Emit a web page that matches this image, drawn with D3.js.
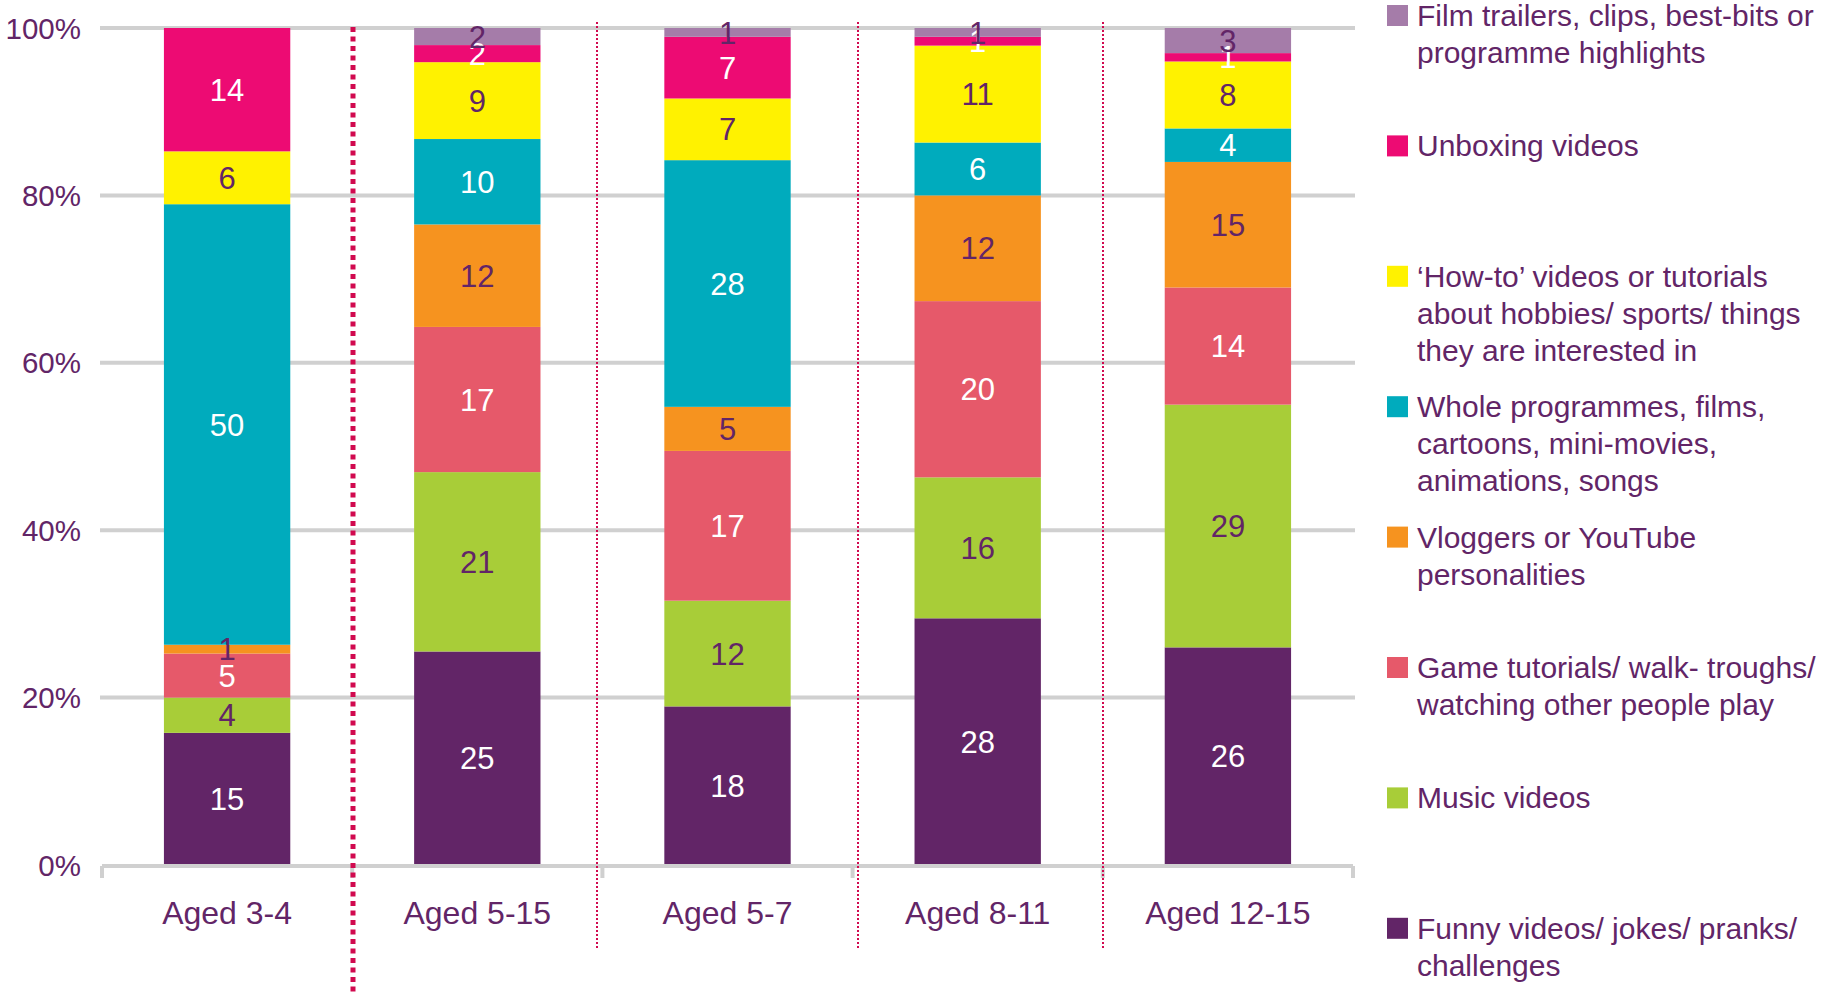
<!DOCTYPE html>
<html>
<head>
<meta charset="utf-8">
<script src="https://cdn.jsdelivr.net/npm/d3@7"></script>
<style>
  html, body { margin: 0; padding: 0; background: #fff; }
  svg text { font-family: "Liberation Sans", Arial, sans-serif; }
</style>
</head>
<body>
<div id="chart"></div>
<script>
const ages = ["Aged 3-4", "Aged 5-15", "Aged 5-7", "Aged 8-11", "Aged 12-15"];

// series from bottom to top
const seriesKeys = ["funny", "music", "game", "vloggers", "whole", "howto", "unboxing", "film"];
const seriesLabels = [
  ["Funny videos/ jokes/ pranks/", "challenges"],
  ["Music videos"],
  ["Game tutorials/ walk- troughs/", "watching other people play"],
  ["Vloggers or YouTube", "personalities"],
  ["Whole programmes, films,", "cartoons, mini-movies,", "animations, songs"],
  ["\u2018How-to\u2019 videos or tutorials", "about hobbies/ sports/ things", "they are interested in"],
  ["Unboxing videos"],
  ["Film trailers, clips, best-bits or", "programme highlights"]
];
const seriesColors = ["#622567", "#a8cd38", "#e6596a", "#f6931f", "#00abbd", "#fff200", "#ed0b73", "#a57ca9"];
const labelColors = ["#fff", "#622567", "#fff", "#622567", "#fff", "#622567", "#fff", "#622567"];

// values per age group, same order as seriesKeys
const funny    = [15, 25, 18, 28, 26];
const music    = [4, 21, 12, 16, 29];
const game     = [5, 17, 17, 20, 14];
const vloggers = [1, 12, 5, 12, 15];
const whole    = [50, 10, 28, 6, 4];
const howto    = [6, 9, 7, 11, 8];
const unboxing = [14, 2, 7, 1, 1];
const film     = [0, 2, 1, 1, 3];

const yTicks = [0, 0.2, 0.4, 0.6, 0.8, 1];

const cols = { funny, music, game, vloggers, whole, howto, unboxing, film };
const table = ages.map((a, i) => {
  const row = { age: a };
  seriesKeys.forEach(k => row[k] = cols[k][i]);
  return row;
});

const width = 1825, height = 994;
const margin = { left: 102, right: 472, top: 28, bottom: 129 };
const purple = "#622567";
const grid = "#d0d0d0";

const svg = d3.select("#chart").append("svg")
  .attr("width", width)
  .attr("height", height);

const x = d3.scaleBand()
  .domain(ages)
  .range([margin.left, width - margin.right])
  .paddingInner(0.495)
  .paddingOuter(0.2475);

const y = d3.scaleLinear()
  .domain([0, 1])
  .range([height - margin.bottom, margin.top]);

const stack = d3.stack().keys(seriesKeys).offset(d3.stackOffsetExpand);
const stacked = stack(table);

// gridlines
svg.append("g")
  .selectAll("line")
  .data(yTicks.filter(d => d > 0))
  .enter()
  .append("line")
  .attr("x1", margin.left - 2)
  .attr("x2", width - margin.right + 2)
  .attr("y1", d => y(d))
  .attr("y2", d => y(d))
  .attr("stroke", grid)
  .attr("stroke-width", 4);

// y labels
svg.append("g")
  .selectAll("text")
  .data(yTicks)
  .enter()
  .append("text")
  .attr("x", 81)
  .attr("y", d => y(d))
  .attr("dy", "0.36em")
  .attr("text-anchor", "end")
  .attr("font-size", "29.5px")
  .attr("fill", purple)
  .text(d => Math.round(d * 100) + "%");

// bars
const layer = svg.append("g")
  .selectAll("g")
  .data(stacked)
  .enter()
  .append("g")
  .attr("fill", (d, i) => seriesColors[i]);

layer.selectAll("rect")
  .data(d => d)
  .enter()
  .append("rect")
  .attr("x", d => x(d.data.age))
  .attr("width", x.bandwidth())
  .attr("y", d => y(d[1]))
  .attr("height", d => y(d[0]) - y(d[1]));

// x axis line + ticks
const step = x.step();
const x0 = margin.left, x1 = width - margin.right;
const baseY = y(0) + 1;
svg.append("line")
  .attr("x1", x0).attr("x2", x1)
  .attr("y1", baseY).attr("y2", baseY)
  .attr("stroke", grid).attr("stroke-width", 4);
svg.append("g")
  .selectAll("line")
  .data(d3.range(ages.length + 1))
  .enter()
  .append("line")
  .attr("x1", i => x0 + i * step)
  .attr("x2", i => x0 + i * step)
  .attr("y1", baseY)
  .attr("y2", baseY + 12)
  .attr("stroke", grid)
  .attr("stroke-width", 4);

// x labels
svg.append("g")
  .selectAll("text")
  .data(ages)
  .enter()
  .append("text")
  .attr("x", d => x(d) + x.bandwidth() / 2)
  .attr("y", 924)
  .attr("text-anchor", "middle")
  .attr("font-size", "32px")
  .attr("fill", purple)
  .text(d => d);

// value labels (drawn per series so upper labels sit on top)
stacked.forEach((s, i) => {
  svg.append("g")
    .selectAll("text")
    .data(s.filter(d => d.data[s.key] > 0))
    .enter()
    .append("text")
    .attr("x", d => x(d.data.age) + x.bandwidth() / 2)
    .attr("y", d => y((d[0] + d[1]) / 2))
    .attr("dy", "0.36em")
    .attr("text-anchor", "middle")
    .attr("font-size", "31px")
    .attr("fill", labelColors[i])
    .text(d => d.data[s.key]);
});

// dotted separators
svg.append("line")
  .attr("x1", 353).attr("x2", 353)
  .attr("y1", 27).attr("y2", height)
  .attr("stroke", "#d10a4f")
  .attr("stroke-width", 5)
  .attr("stroke-dasharray", "5,4.5");

svg.append("g")
  .selectAll("line")
  .data([597, 858, 1103])
  .enter()
  .append("line")
  .attr("x1", d => d).attr("x2", d => d)
  .attr("y1", 22).attr("y2", 948)
  .attr("stroke", "#d10a4f")
  .attr("stroke-width", 2)
  .attr("stroke-dasharray", "2,2");

// legend (top to bottom is reverse of stack order)
const legendOrder = d3.range(seriesKeys.length).reverse();
const legend = svg.append("g")
  .selectAll("g")
  .data(legendOrder)
  .enter()
  .append("g")
  .attr("transform", (d, j) => `translate(1387,${5 + j * 130.4})`);

legend.append("rect")
  .attr("width", 21)
  .attr("height", 21)
  .attr("fill", d => seriesColors[d]);

legend.append("text")
  .attr("font-size", "30px")
  .attr("fill", purple)
  .selectAll("tspan")
  .data(d => seriesLabels[d])
  .enter()
  .append("tspan")
  .attr("x", 30)
  .attr("y", (d, k) => 21 + k * 37)
  .text(d => d);
</script>
</body>
</html>
